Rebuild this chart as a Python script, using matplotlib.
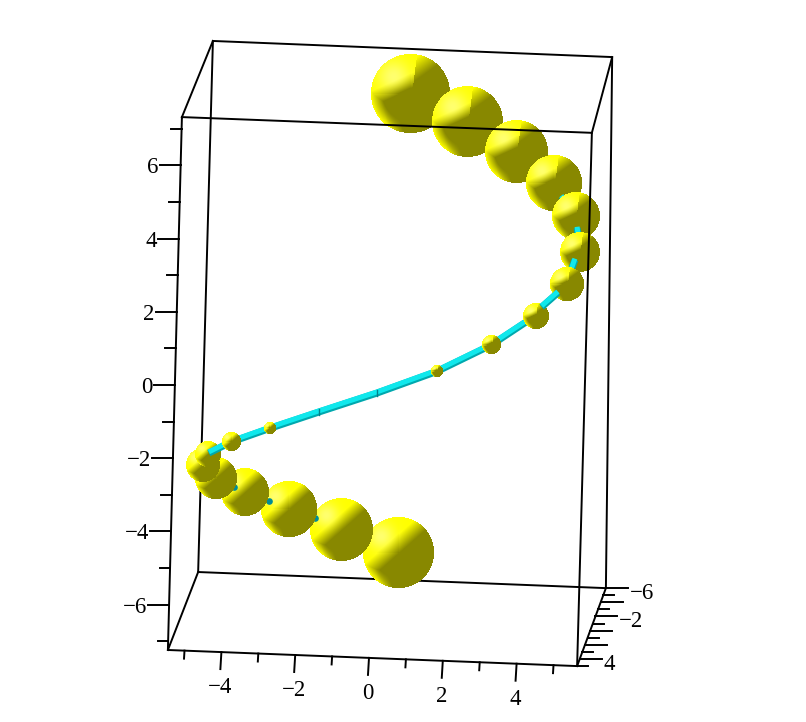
import numpy as np
import matplotlib
matplotlib.use("Agg")
import matplotlib.pyplot as plt
from matplotlib.transforms import offset_copy

# Sphere centres (horizontal axis value, vertical axis value) and radii
upper_x = [1.12, 2.66, 4.00, 5.00, 5.61, 5.72, 5.35, 4.51, 3.31, 1.84]
upper_z = [7.95, 7.20, 6.38, 5.51, 4.62, 3.63, 2.76, 1.89, 1.09, 0.37]
upper_r = [1.06, 0.96, 0.85, 0.75, 0.65, 0.54, 0.45, 0.35, 0.25, 0.15]
lower_x = [-2.70, -3.74, -4.36, -4.50, -4.16, -3.35, -2.18, -0.75, 0.79]
lower_z = [-1.19, -1.56, -1.89, -2.19, -2.55, -2.92, -3.39, -3.95, -4.58]
lower_r = [0.15, 0.25, 0.35, 0.46, 0.56, 0.65, 0.75, 0.85, 0.95]
# Tiny spheres buried in the tube
tiny_x = [0.22, -1.36]
tiny_z = [-0.22, -0.74]
# Visible tube stubs
stub_4_x, stub_4_z = [5.21, 5.61], [5.14, 4.62]
stub_5_x, stub_5_z = [5.64, 5.72], [4.29, 3.63]
stub_6_x, stub_6_z = [5.58, 5.35], [3.42, 2.76]
stub_7_x, stub_7_z = [5.12, 4.68], [2.52, 2.13]
stub_13_x, stub_13_z = [-4.34, -3.74], [-1.86, -1.56]
# Bits of the tube seen between the lower spheres
gap_x = [-1.46, -2.71, -3.66]
gap_z = [-3.63, -3.17, -2.79]

# Frame corners
front_x = [-5.07, 6.04, 5.64, -5.45]
front_z = [7.32, 6.89, -7.68, -7.24]
back_x = [-4.23, 6.59, 6.42, -4.63]
back_z = [9.40, 8.96, -5.55, -5.11]

x_major = [-4, -2, 0, 2, 4]
x_minor = [-5, -3, -1, 1, 3, 5]
z_major = [-6, -4, -2, 0, 2, 4, 6]
z_minor = [-7, -5, -3, -1, 1, 3, 5, 7]
y_major = [-6, -4, -2, 0, 2, 4]
y_minor = [-5, -3, -1, 1, 3, 5]
y_labelled = [-6, -2, 4]

PX_X = 36.9
PX_Z = 36.6
W, H = 806, 722
LW = 1.4
fig = plt.figure(figsize=(W / 100, H / 100), dpi=100)
ax = fig.add_axes([0, 0, 1, 1])
xlim = (-369 / PX_X, (W - 369) / PX_X)
ylim = ((385 - H) / PX_Z, 385 / PX_Z)
ax.axis("off")

FONT = dict(family="Liberation Serif", fontsize=16.5, color="black")
OLIVE = np.array([136, 136, 0]) / 255
YELLOW = np.array([255, 255, 0]) / 255
HIGH = np.array([255, 255, 130]) / 255


def smooth(a):
    return np.clip(a, 0, 1)


def sphere(cx, cz, r, z, seam):
    n = max(int(round(2 * r * PX_X)), 4)
    c = (np.arange(n) + 0.5) / n * 2 - 1
    gx, gy = np.meshgrid(c, -c)
    rr = np.hypot(gx, gy)
    edge = smooth((rr - 0.70) / 0.30) * smooth((-0.95 * gx - 0.25 * gy - 0.40) / 0.35)
    if seam:
        left = smooth((gy - 0.46 * gx - 0.12) / 0.38)
        left = np.maximum(left, edge)
        right = smooth((0.85 * gy - 0.6 * gx - 0.2) / 0.5)
        is_left = gx < 0.03 + 0.13 * gy
        t = np.where(is_left, left, right)
        h = np.exp(-((gx + 0.42) ** 2 + (gy - 0.42) ** 2) / (2 * 0.30 ** 2))
        h = np.where(is_left, h, 0)
    else:
        s = -0.66 * gx + 0.75 * gy
        t = np.maximum(smooth((s + 0.03) / 0.42), edge)
        h = np.exp(-((gx + 0.48) ** 2 + (gy - 0.45) ** 2) / (2 * 0.27 ** 2))
    rgb = OLIVE + (YELLOW - OLIVE) * t[..., None]
    rgb = rgb + (HIGH - rgb) * (0.85 * h * t)[..., None]
    img = np.dstack([rgb, (rr <= 1).astype(float)])
    rz = r * PX_X / PX_Z
    ax.imshow(img, extent=(cx - r, cx + r, cz - rz, cz + rz), aspect="auto",
              interpolation="nearest", zorder=z)


up_off = offset_copy(ax.transData, fig=fig, x=0, y=1.2, units="dots")


def tube(xs, zs, z):
    ax.plot(xs, zs, color="#00a8ae", lw=5.0, solid_capstyle="butt", zorder=z)
    ax.plot(xs, zs, color="#10e8ec", lw=3.6, solid_capstyle="butt", zorder=z + 0.1,
            transform=up_off)


# Back edges of the frame
bx, bz = back_x + back_x[:1], back_z + back_z[:1]
ax.plot(bx, bz, color="black", lw=LW, zorder=1)
for i in range(4):
    ax.plot([front_x[i], back_x[i]], [front_z[i], back_z[i]], color="black", lw=LW,
            zorder=1)

# Lower spheres: smaller ones lie in front, tube bits between them
level = 3.0
for i in [8, 7, 6, 5, 4, 3, 2]:
    sphere(lower_x[i], lower_z[i], lower_r[i], level, False)
    level += 0.1
    if i in (7, 6, 5):
        ax.plot(gap_x[7 - i], gap_z[7 - i], ls="none", marker="o", ms=4.8, mew=0,
                color="#008c96", zorder=level)
        level += 0.1

# Upper spheres, from the far end
for i in range(4):
    sphere(upper_x[i], upper_z[i], upper_r[i], 4 + i * 0.1, True)
tube(stub_4_x, stub_4_z, 4.5)
sphere(upper_x[4], upper_z[4], upper_r[4], 4.7, True)
tube(stub_5_x, stub_5_z, 4.8)
sphere(upper_x[5], upper_z[5], upper_r[5], 5.0, True)
tube(stub_6_x, stub_6_z, 5.1)
sphere(upper_x[6], upper_z[6], upper_r[6], 5.3, True)

# Long visible run of the tube
run_x = stub_13_x[:1] + lower_x[1::-1] + tiny_x[::-1] + upper_x[9:6:-1]
run_z = stub_13_z[:1] + lower_z[1::-1] + tiny_z[::-1] + upper_z[9:6:-1]
tube(run_x, run_z, 5.5)
for tx, tz in zip(tiny_x, tiny_z):
    ax.plot([tx, tx], [tz - 0.09, tz + 0.09], color="#00828c", lw=1.0, zorder=5.7)
for i in (7, 8, 9):
    sphere(upper_x[i], upper_z[i], upper_r[i], 6 + i * 0.01, True)
for i in (0, 1):
    sphere(lower_x[i], lower_z[i], lower_r[i], 6.2 + i * 0.01, False)
tube(stub_7_x, stub_7_z, 6.4)

# Front edges of the frame
fx, fz = front_x + front_x[:1], front_z + front_z[:1]
ax.plot(fx, fz, color="black", lw=LW, zorder=7)


def lerp(a, b, t):
    return a + (b - a) * t


# Vertical axis ticks on the front-left edge
for v in z_major + z_minor:
    major = v in z_major
    t = (front_z[0] - v) / (front_z[0] - front_z[3])
    ex = lerp(front_x[0], front_x[3], t)
    ln = (21 if major else 10.5) / PX_X
    ax.plot([ex - ln, ex], [v, v], color="black", lw=LW, zorder=7)
    if major:
        s = f"\u2212{abs(v)}" if v < 0 else str(v)
        ax.text(ex - ln - 0.03, v, s, ha="right", va="center_baseline", **FONT)

# Horizontal axis ticks on the front-bottom edge
for v in x_major + x_minor:
    major = v in x_major
    t = (v - front_x[3]) / (front_x[2] - front_x[3])
    ez = lerp(front_z[3], front_z[2], t)
    ln = (17 if major else 8) / PX_Z
    ax.plot([v, v - ln * 0.06], [ez, ez - ln], color="black", lw=LW, zorder=7)
    if major:
        s = f"\u2212{abs(v)}" if v < 0 else str(v)
        ax.text(v - 0.03, ez - ln - 0.44, s, ha="center", va="center_baseline", **FONT)

# Depth axis ticks on the bottom-right edge
for v in y_major + y_minor:
    major = v in y_major
    t = (v + 6) / 11
    ex = lerp(back_x[2], front_x[2], t)
    ez = lerp(back_z[2], front_z[2], t)
    ln = (22 if major else 11) / PX_X
    ax.plot([ex, ex + ln], [ez, ez], color="black", lw=LW, zorder=7)
    if v in y_labelled:
        s = f"\u2212{abs(v)}" if v < 0 else str(v)
        ax.text(ex + ln + 0.05, ez - 0.07, s, ha="left", va="center_baseline", **FONT)

ax.set_xlim(*xlim)
ax.set_ylim(*ylim)
fig.savefig("out.png", dpi=100, facecolor="white")
